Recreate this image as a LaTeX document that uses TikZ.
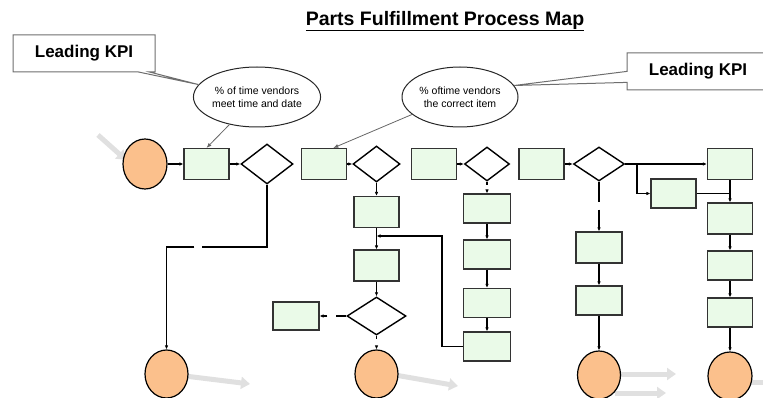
\documentclass[tikz,border=0pt]{standalone}
\usepackage{fontspec}
\setmainfont{Liberation Sans}
\usetikzlibrary{shapes.geometric,shapes.callouts,arrows.meta}
\definecolor{procfill}{RGB}{234,250,232}
\definecolor{termfill}{RGB}{251,192,140}
\definecolor{kpiline}{RGB}{110,110,110}
\begin{document}
\begin{tikzpicture}[x=1pt,y=-1pt,
    proc/.style={draw=black!80,line width=1.1pt,fill=procfill,minimum width=45pt,minimum height=31pt,inner sep=0pt},
    dec/.style={diamond,draw=black,line width=1.4pt,fill=white,inner sep=0pt},
    term/.style={ellipse,draw=black,line width=1.2pt,fill=termfill,minimum width=43pt,minimum height=48pt,inner sep=0pt},
    note/.style={ellipse,draw=black!85,line width=1pt,fill=white,minimum width=118pt,minimum height=60pt,inner sep=0pt,align=center,font=\fontsize{10.5}{13.5}\selectfont},
    kpi/.style={rectangle callout,draw=kpiline,line width=1pt,fill=white,minimum width=142pt,minimum height=37pt,callout pointer width=11pt,font=\fontsize{17}{19}\selectfont\bfseries},
    flow/.style={draw=black,line width=1.2pt,-{Latex[length=4pt,width=3.5pt]}},
    wire/.style={draw=black,line width=1.2pt},
    hint/.style={draw=gray!80!black,line width=0.8pt,-{Latex[length=5pt,width=4pt]}},
    shade/.style={draw=black!12,line width=5pt,-{Triangle[length=9pt,width=12pt]}}]
  \useasboundingbox (0,0) rectangle (763,398);

  % Drawing shadow arrows
  \coordinate (sA0) at (98,135);  \coordinate (sA1) at (126,160);
  \coordinate (sB0) at (185,376); \coordinate (sB1) at (250,384);
  \coordinate (sC0) at (395,375); \coordinate (sC1) at (458,386);
  \coordinate (sD0) at (615,374); \coordinate (sD1) at (676,374);
  \coordinate (sE0) at (615,393); \coordinate (sE1) at (666,393);
  \coordinate (sF0) at (748,382); \coordinate (sF1) at (775,382);
  \draw[shade] (sA0) -- (sA1);%
  \draw[shade] (sB0) -- (sB1);%
  \draw[shade] (sC0) -- (sC1);%
  \draw[shade] (sD0) -- (sD1);%
  \draw[shade] (sE0) -- (sE1);%
  \draw[shade] (sF0) -- (sF1);%

  % Title
  \node (title) at (445,21) {\fontsize{19.5}{22}\selectfont\bfseries\underline{Parts Fulfillment Process Map}};%

  % Notes and KPI callouts
  \node[note] (nA) at (257,97) {\% of time vendors\\meet time and date};%
  \node[note,minimum width=116pt] (nB) at (460,97) {\% oftime vendors\\the correct item};%
  \node[kpi,callout absolute pointer={(nA.168)}] (kpiA) at (84,53.5) {Leading KPI};%
  \node[kpi,callout absolute pointer={(nB.12)}] (kpiB) at (698,71.5) {Leading KPI};%

  % Top row
  \node[term,minimum width=44pt,minimum height=50pt] (tA) at (145,164) {};%
  \node[proc] (pA) at (206.5,164) {};%
  \node[dec,minimum width=52pt,minimum height=40pt] (dA) at (267,164) {};%
  \node[proc] (pB) at (324,164) {};%
  \node[dec,minimum width=47pt,minimum height=36pt] (dB) at (376.5,164) {};%
  \node[proc] (pC) at (434,164) {};%
  \node[dec,minimum width=45pt,minimum height=34pt] (dC) at (487,164) {};%
  \node[proc] (pD) at (541.5,164) {};%
  \node[dec,minimum width=51pt,minimum height=34pt] (dD) at (599,164) {};%
  \node[proc] (pE) at (730,164) {};%

  % Column under first decision
  \node[term] (tA2) at (166.5,374) {};%

  % Column under second decision
  \node[proc] (pB1) at (376.5,212) {};%
  \node[proc] (pB2) at (376.5,265.5) {};%
  \node[dec,minimum width=59pt,minimum height=38pt] (dB3) at (376.5,316) {};%
  \node[proc,minimum width=46pt,minimum height=28pt] (pBx) at (296,316) {};%
  \node[term] (tB) at (376.5,374) {};%

  % Column under third decision
  \node[proc,minimum width=47pt,minimum height=29pt] (pC1) at (487,208.5) {};%
  \node[proc,minimum width=47pt,minimum height=29pt] (pC2) at (487,254.5) {};%
  \node[proc,minimum width=47pt,minimum height=29pt] (pC3) at (487,303) {};%
  \node[proc,minimum width=47pt,minimum height=29pt] (pC4) at (487,346.5) {};%

  % Column under fourth decision
  \node[proc,minimum width=46pt] (pD1) at (599,247.5) {};%
  \node[proc,minimum width=46pt,minimum height=29pt] (pD2) at (599,300.5) {};%
  \node[term] (tD) at (599,375) {};%

  % Right column
  \node[proc,minimum height=29pt] (pE1) at (673.5,193.5) {};%
  \node[proc] (pE2) at (730,218.5) {};%
  \node[proc,minimum height=29pt] (pE3) at (730,265.5) {};%
  \node[proc,minimum height=29pt] (pE4) at (730,312.5) {};%
  \node[term,minimum width=44pt] (tE) at (730,376) {};%

  % Drawing note pointers
  \draw[hint] (nA.225) -- (pA.north);%
  \draw[hint] (nB.200) -- (pB.60);%

  % Drawing top row flow
  \draw[flow] (tA) -- (pA);%
  \draw[flow] (pA) -- (dA);%
  \draw[flow] (pB) -- (dB);%
  \draw[flow] (pC) -- (dC);%
  \draw[flow] (pD) -- (dD);%

  % Drawing first decision branch
  \coordinate (jA) at (166.5,247);
  \draw[flow,dash pattern=on 127pt off 8pt on 300pt] (dA.south) |- (jA) -- (tA2.north);%

  % Drawing second decision branch
  \draw[flow] (dB) -- (pB1);%
  \draw[flow] (pB1) -- (pB2);%
  \draw[flow] (pB2) -- (dB3);%
  \draw[flow,dash pattern=on 10pt off 9pt on 9pt] (dB3.west) -- (pBx.east);%
  \draw[flow,dash pattern=on 3pt off 9pt on 4pt] (dB3.south) -- (tB.north);%

  % Drawing third decision branch
  \draw[flow,dash pattern=on 3pt off 6pt on 5pt] (dC.south) -- (pC1.north);%
  \draw[flow] (pC1) -- (pC2);%
  \draw[flow] (pC2) -- (pC3);%
  \draw[flow] (pC3) -- (pC4);%
  \coordinate (kB) at (442,236);
  \coordinate (jB) at (376.5,236);
  \draw[flow] (pC4.west) -| (kB) -- (jB);%

  % Drawing fourth decision branch
  \draw[flow,dash pattern=on 20pt off 8pt on 30pt] (dD.south) -- (pD1.north);%
  \draw[flow] (pD1) -- (pD2);%
  \draw[flow] (pD2) -- (tD);%

  % Drawing right branch
  \draw[flow] (dD.east) -- (pE.west);%
  \coordinate (jE) at (637,164);
  \draw[flow] (jE) |- (pE1.west);%
  \draw[flow] (pE) -- (pE2);%
  \coordinate (kE) at (730,193.5);
  \draw[wire] (pE1.east) -- (kE);%
  \draw[flow] (pE2) -- (pE3);%
  \draw[flow] (pE3) -- (pE4);%
  \draw[flow] (pE4) -- (tE);%
\end{tikzpicture}
\end{document}
